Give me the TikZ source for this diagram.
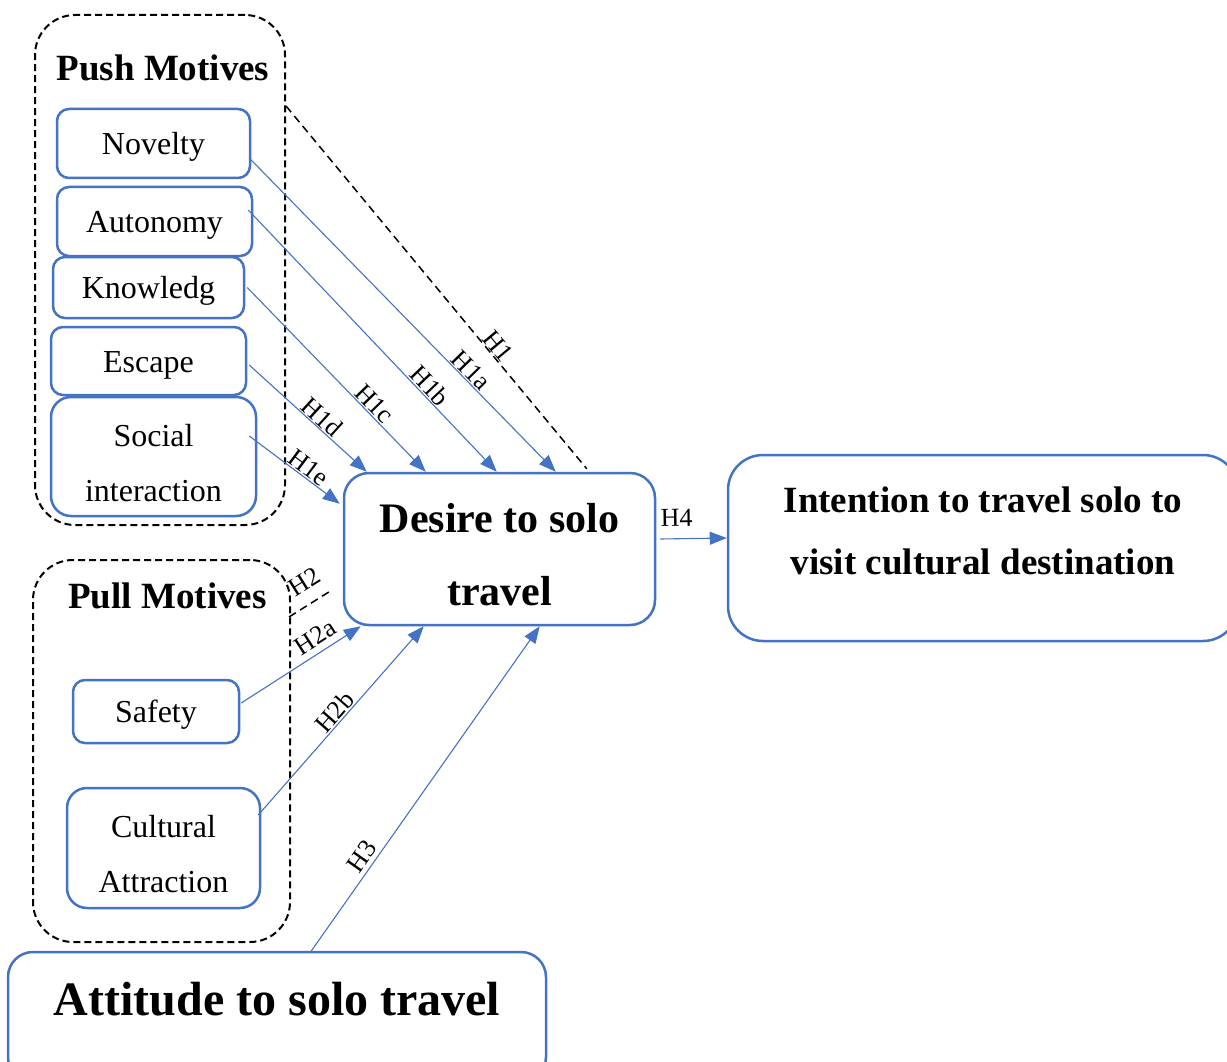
\documentclass[tikz,border=0pt]{standalone}
\usepackage{fontspec}
\setmainfont{Liberation Serif}
\usetikzlibrary{arrows.meta}
\definecolor{mblue}{HTML}{4472C4}
\begin{document}
\begin{tikzpicture}[x=1pt,y=-1pt,
 box/.style={draw=mblue, line width=2.5pt, rounded corners=12pt, align=center, inner sep=0pt, font=\fontsize{32}{55}\selectfont},
 onebox/.style={box, text height=22pt, text depth=0pt},
 twobox/.style={box, rounded corners=20pt, text height=89pt, text depth=0pt},
 grp/.style={draw=black, line width=2pt, dash pattern=on 7pt off 4pt, rounded corners=40pt, inner sep=0pt},
 link/.style={draw=mblue, line width=1.1pt, -{Triangle[length=17pt,width=13pt]}},
 hyp/.style={font=\fontsize{26}{26}\selectfont, sloped, above, inner sep=1pt},
 blackdash/.style={draw=black, line width=1.5pt, dash pattern=on 8pt off 5pt},
 titletext/.style={font=\bfseries\fontsize{37}{37}\selectfont, inner sep=0pt}]
\useasboundingbox (0,0) rectangle (1227,1062);

% groups
\node[grp, minimum width=250pt, minimum height=510pt] (push) at (160,270) {};
\node[grp, minimum width=257pt, minimum height=382pt] (pull) at (161.5,751) {};
\node[titletext] (pushT) at (163,67.5) {Push Motives};
\node[titletext] (pullT) at (167.5,595.5) {Pull Motives};

% push items
\node[onebox, minimum width=193pt, minimum height=69pt] (nov) at (153.5,143.5) {Novelty};
\node[onebox, minimum width=195pt, minimum height=69pt] (au) at (154.5,221.5) {Autonomy};
\node[onebox, minimum width=191pt, minimum height=61pt] (kn) at (148.5,287.5) {Knowledg};
\node[onebox, minimum width=195pt, minimum height=68pt] (esc) at (148.5,361) {Escape};
\node[twobox, minimum width=205pt, minimum height=119pt] (soc) at (153.5,456.5) {Social\\interaction};

% pull items
\node[onebox, minimum width=166pt, minimum height=63pt] (saf) at (156,711.5) {Safety};
\node[twobox, minimum width=193pt, minimum height=120pt] (cul) at (163.5,848) {Cultural\\Attraction};

% main constructs
\node[box, rounded corners=25pt, minimum width=311pt, minimum height=152pt, text height=112pt, text depth=0pt, font=\bfseries\fontsize{42}{73}\selectfont] (des) at (499.5,549) {Desire to solo\\travel};
\node[box, rounded corners=35pt, minimum width=510pt, minimum height=186pt, text depth=34pt, font=\bfseries\fontsize{37}{62}\selectfont] (int) at (983,548) {Intention to travel solo to\\visit cultural destination};
\node[box, rounded corners=25pt, minimum width=538pt, minimum height=130pt, text depth=37pt, font=\bfseries\fontsize{48}{48}\selectfont] (att) at (277,1017) {Attitude to solo travel};

% push links
\draw[link] ([xshift=-2pt,yshift=-14.5pt]nov.east) -- node[hyp,pos=0.70]{H1a} ([xshift=213pt]des.north west);
\draw[link] ([xshift=-5pt,yshift=11.5pt]au.east) -- node[hyp,pos=0.70]{H1b} ([xshift=154pt]des.north west);
\draw[link] ([xshift=2pt]kn.east) -- node[hyp,pos=0.67]{H1c} ([xshift=83pt]des.north west);
\draw[link] ([xshift=2pt,yshift=-4pt]esc.east) -- node[hyp,pos=0.56]{H1d} ([xshift=24pt]des.north west);
\draw[link] ([xshift=-8pt,yshift=20.5pt]soc.east) -- node[hyp,pos=0.59]{H1e} ([xshift=-3pt,yshift=-32pt]des.north west);
\draw[blackdash] ([yshift=-92pt]push.north east) -- node[hyp,pos=0.68]{H1} ([xshift=244pt,yshift=3pt]des.north west);

% pull links
\coordinate (h2end) at (332,590);
\draw[blackdash] ([xshift=-2pt,yshift=-58pt]pull.north east) -- node[hyp,pos=0.62,above=11pt]{H2} (h2end);
\draw[link] ([xshift=1pt,yshift=8.5pt]saf.east) -- node[hyp,pos=0.69,above=5pt]{H2a} ([xshift=18pt]des.south west);
\draw[link] ([xshift=-3pt,yshift=33pt]cul.east) -- node[hyp,pos=0.51]{H2b} ([xshift=81pt]des.south west);
\draw[link] ([xshift=304pt,yshift=-1pt]att.north west) -- node[hyp,pos=0.27,above=3pt]{H3} ([xshift=197pt]des.south west);

% H4
\draw[link] ([xshift=4pt,yshift=10pt]des.east) -- node[hyp,pos=0.25,above=11pt]{H4} ([yshift=10pt]int.west);
\end{tikzpicture}
\end{document}
